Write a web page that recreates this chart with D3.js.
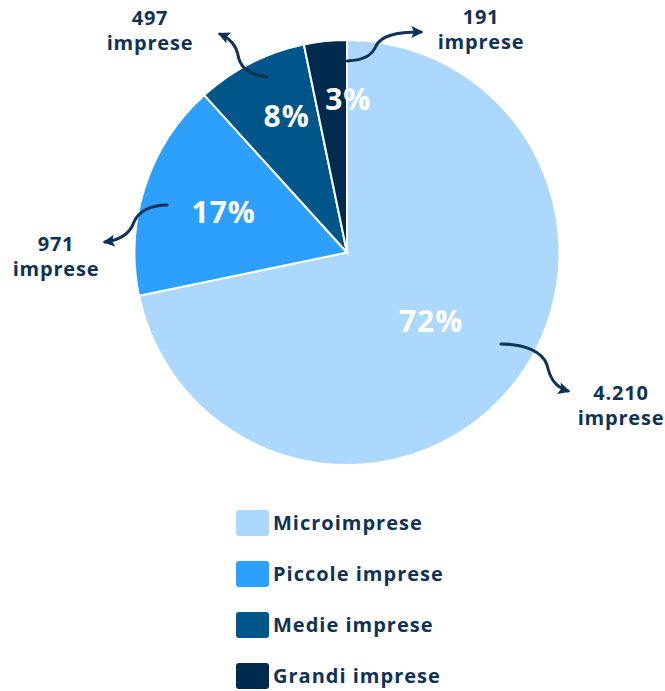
<!DOCTYPE html>
<html>
<head>
<meta charset="utf-8">
<script src="https://cdn.jsdelivr.net/npm/d3@7"></script>
<style>
  body { margin: 0; background: #fff; }
  text { font-family: "Open Sans", sans-serif; font-weight: 700; }
</style>
</head>
<body>
<div id="chart"></div>
<script>
// data
const categories = ["Microimprese", "Piccole imprese", "Medie imprese", "Grandi imprese"];
const counts = [4210, 971, 497, 191];
const countLabels = ["4.210", "971", "497", "191"];
const percentLabels = ["72%", "17%", "8%", "3%"];
const colours = ["#acd8fd", "#2d9ffc", "#005689", "#002b4f"];

const width = 665;
const height = 691;
const cx = 347, cy = 252.5, radius = 212.5;
const textColour = "#0f3256";

const svg = d3.select("#chart")
  .append("svg")
  .attr("width", width)
  .attr("height", height);

svg.append("defs")
  .append("marker")
  .attr("id", "head")
  .attr("viewBox", "0 0 10 10")
  .attr("refX", 8)
  .attr("refY", 5)
  .attr("markerWidth", 4)
  .attr("markerHeight", 4)
  .attr("markerUnits", "strokeWidth")
  .attr("orient", "auto")
  .append("path")
  .attr("d", "M0,0 L10,5 L0,10 L2,5 Z")
  .attr("fill", textColour);

const pie = d3.pie().sort(null).value((d) => d);
const arcs = pie(counts);
const arc = d3.arc().innerRadius(0).outerRadius(radius);

const g = svg.append("g").attr("transform", "translate(" + cx + "," + cy + ")");

g.selectAll(".slice")
  .data(arcs)
  .join("path")
  .attr("class", "slice")
  .attr("d", arc)
  .attr("fill", (d, i) => colours[i])
  .attr("stroke", "#fff")
  .attr("stroke-width", 2);

// percent labels, pushed further out for the thin slices
const labelFactor = [0.51, 0.61, 0.72, 0.725];
const labelShift = [0, 0, 9, 17];
g.selectAll(".pct")
  .data(arcs)
  .join("text")
  .attr("class", "pct")
  .attr("transform", (d, i) => {
    const r = radius * labelFactor[i];
    const a = (d.startAngle + d.endAngle) / 2;
    return "translate(" + (Math.sin(a) * r + labelShift[i]) + "," + (-Math.cos(a) * r) + ")";
  })
  .attr("text-anchor", "middle")
  .attr("dy", "0.36em")
  .attr("font-size", 30)
  .attr("letter-spacing", 1)
  .attr("fill", "#fff")
  .text((d, i) => percentLabels[i]);

// curved arrows + counts
const notes = [
  { path: "M501,344 C525,344 543,352 547,365 C550,378 555,387 568,391", x: 621, y: 400 },
  { path: "M167,205 C150,205 138,212 134,222 C130,234 120,240 105,242", x: 56, y: 251 },
  { path: "M267,77 C250,75 240,68 238,55 C236,45 229,38 220,34", x: 150, y: 25 },
  { path: "M347,61 C365,60 372,55 376,46 C381,36 395,32 421,32", x: 481, y: 24 },
];

svg.selectAll(".arrow")
  .data(notes)
  .join("path")
  .attr("class", "arrow")
  .attr("d", (d) => d.path)
  .attr("fill", "none")
  .attr("stroke", textColour)
  .attr("stroke-width", 3)
  .attr("stroke-linecap", "round")
  .attr("marker-end", "url(#head)");

const noteText = svg.selectAll(".note")
  .data(notes)
  .join("text")
  .attr("class", "note")
  .attr("text-anchor", "middle")
  .attr("font-size", 20)
  .attr("letter-spacing", 0.8)
  .attr("fill", textColour);

noteText.append("tspan")
  .attr("x", (d) => d.x)
  .attr("y", (d) => d.y)
  .text((d, i) => countLabels[i]);

noteText.append("tspan")
  .attr("x", (d) => d.x)
  .attr("y", (d) => d.y + 25)
  .text("imprese");

// legend
const legend = svg.selectAll(".legend")
  .data(categories)
  .join("g")
  .attr("class", "legend")
  .attr("transform", (d, i) => "translate(236," + (510 + i * 51) + ")");

legend.append("rect")
  .attr("width", 33)
  .attr("height", 26)
  .attr("rx", 3)
  .attr("fill", (d, i) => colours[i]);

legend.append("text")
  .attr("x", 37)
  .attr("y", 20)
  .attr("font-size", 20)
  .attr("letter-spacing", 1)
  .attr("fill", textColour)
  .text((d) => d);
</script>
</body>
</html>
